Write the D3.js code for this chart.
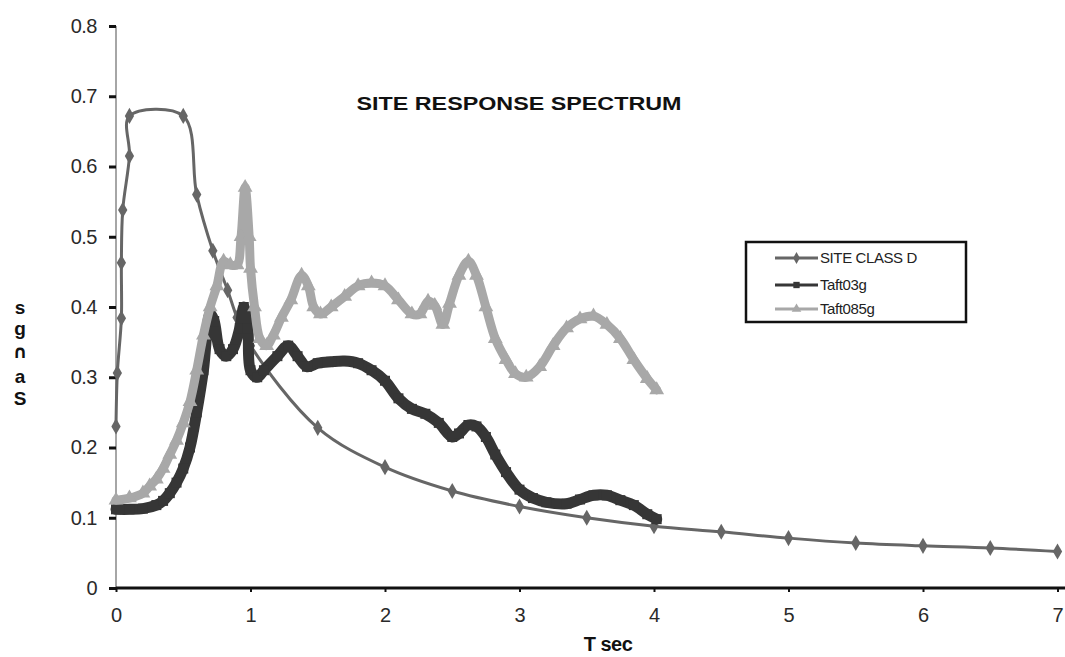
<!DOCTYPE html>
<html><head><meta charset="utf-8">
<script src="https://cdn.jsdelivr.net/npm/d3@7"></script>
<style>body{margin:0;background:#fff}svg{display:block}</style>
</head><body>
<svg id="c" width="1065" height="657"></svg>
<script>
// ---- data ----
const xTicks = [0,1,2,3,4,5,6,7];
const yTicks = [0,0.1,0.2,0.3,0.4,0.5,0.6,0.7,0.8];
const seriesNames = ["SITE CLASS  D","Taft03g","Taft085g"];

const siteT  = [0,0.01,0.04,0.04,0.05,0.1,0.1,0.5,0.6,0.72,0.83,0.9,1.0,1.5,2,2.5,3,3.5,4,4.5,5,5.5,6,6.5,7];
const siteSa = [0.23,0.306,0.384,0.463,0.538,0.615,0.672,0.672,0.56,0.48,0.424,0.385,0.345,0.228,0.172,0.138,0.116,0.1,0.088,0.08,0.071,0.064,0.06,0.057,0.052];

const t03T  = [0,0.1,0.2,0.3,0.35,0.4,0.45,0.5,0.55,0.6,0.65,0.7,0.73,0.77,0.82,0.87,0.92,0.95,0.98,1.0,1.05,1.1,1.2,1.28,1.35,1.42,1.5,1.6,1.7,1.8,1.9,2.0,2.1,2.2,2.3,2.4,2.5,2.55,2.62,2.68,2.75,2.82,2.9,3.0,3.1,3.2,3.35,3.45,3.55,3.65,3.75,3.85,3.95,4.02];
const t03Sa = [0.112,0.112,0.113,0.118,0.124,0.135,0.15,0.17,0.2,0.25,0.31,0.39,0.38,0.34,0.33,0.34,0.37,0.40,0.37,0.31,0.30,0.31,0.33,0.345,0.33,0.315,0.32,0.322,0.323,0.32,0.31,0.295,0.27,0.255,0.248,0.235,0.215,0.22,0.232,0.23,0.215,0.19,0.165,0.14,0.128,0.122,0.12,0.126,0.132,0.132,0.125,0.118,0.105,0.098];

const t085T  = [0,0.1,0.2,0.25,0.3,0.35,0.4,0.45,0.5,0.55,0.6,0.65,0.7,0.75,0.8,0.85,0.9,0.93,0.96,0.99,1.0,1.03,1.07,1.12,1.17,1.23,1.3,1.38,1.43,1.47,1.52,1.6,1.7,1.8,1.9,2.0,2.1,2.2,2.26,2.32,2.37,2.43,2.48,2.55,2.62,2.68,2.75,2.82,2.9,2.97,3.05,3.15,3.25,3.35,3.45,3.55,3.65,3.75,3.85,3.95,4.02];
const t085Sa = [0.125,0.128,0.135,0.145,0.155,0.17,0.19,0.21,0.235,0.265,0.31,0.36,0.40,0.43,0.465,0.46,0.46,0.50,0.57,0.50,0.455,0.40,0.355,0.345,0.36,0.385,0.41,0.445,0.43,0.40,0.39,0.40,0.415,0.43,0.434,0.43,0.41,0.39,0.39,0.408,0.402,0.375,0.405,0.445,0.465,0.445,0.40,0.355,0.325,0.305,0.30,0.315,0.345,0.37,0.383,0.387,0.375,0.355,0.325,0.298,0.282];

// ---- chart ----
const svg = d3.select("#c");
const x = d3.scaleLinear().domain([0,7]).range([116,1057.5]);
const y = d3.scaleLinear().domain([0,0.8]).range([588,26]);
const font = "'Liberation Sans', Arial, sans-serif";

// y axis
const yAxis = svg.append("g").attr("transform","translate(116,0)")
  .call(d3.axisLeft(y).tickValues(yTicks).tickSize(7).tickPadding(12).tickFormat(d=>d===0?"0":d3.format(".1f")(d)));
yAxis.select(".domain").attr("stroke","#888").attr("stroke-width",1.5).attr("d","M0,26V588");
yAxis.selectAll(".tick line").attr("stroke","#111").attr("stroke-width",3);
yAxis.selectAll(".tick text").attr("font-family",font).attr("font-size",20).attr("letter-spacing","-0.5").attr("fill","#2a2a2a");

// series
const pts = (T,V)=>T.map((t,i)=>[t,V[i]]);
const line = d3.line().x(d=>x(d[0])).y(d=>y(d[1])).curve(d3.curveCatmullRom.alpha(0.5));
const series = [
  {name:seriesNames[0], data:pts(siteT,siteSa), color:"#666", width:3, sym:d3.symbolDiamond, size:75},
  {name:seriesNames[1], data:pts(t03T,t03Sa), color:"#363636", width:11, sym:d3.symbolSquare, size:100},
  {name:seriesNames[2], data:pts(t085T,t085Sa), color:"#a8a8a8", width:9, sym:d3.symbolTriangle, size:95}
];
series.forEach(s=>{
  const g = svg.append("g");
  g.append("path").attr("d",line(s.data)).attr("fill","none").attr("stroke",s.color)
    .attr("stroke-width",s.width).attr("stroke-linejoin","round").attr("stroke-linecap","round");
  g.selectAll("path.m").data(s.data).join("path").attr("class","m")
    .attr("d",d3.symbol().type(s.sym).size(s.size))
    .attr("transform",d=>`translate(${x(d[0])},${y(d[1])})`).attr("fill",s.color);
});

// x axis
const xAxis = svg.append("g").attr("transform","translate(0,588)")
  .call(d3.axisBottom(x).tickValues(xTicks).tickSize(4).tickPadding(16).tickFormat(d3.format("d")));
xAxis.select(".domain").attr("stroke","#111").attr("stroke-width",3).attr("d","M116,0H1065");
xAxis.selectAll(".tick line").attr("stroke","#111").attr("stroke-width",2);
xAxis.selectAll(".tick text").attr("font-family",font).attr("font-size",20).attr("fill","#2a2a2a");

// title
svg.append("text").attr("x",519).attr("y",110).attr("text-anchor","middle")
  .attr("font-family",font).attr("font-weight","bold").attr("font-size",18)
  .attr("textLength",325).attr("lengthAdjust","spacingAndGlyphs").attr("fill","#111")
  .text("SITE RESPONSE SPECTRUM");

// x label
svg.append("text").attr("x",608).attr("y",651).attr("text-anchor","middle")
  .attr("font-family",font).attr("font-weight","bold").attr("font-size",20).attr("fill","#111")
  .attr("letter-spacing","-0.5").text("T sec");

// y label (stacked glyphs)
const yLab = [["s",314],["g",335],["\u2229",358],["a",383],["S",405]];
svg.append("g").selectAll("text").data(yLab).join("text")
  .attr("x",20).attr("y",d=>d[1]).attr("text-anchor","middle")
  .attr("font-family",d=>d[0]==="\u2229"?"'DejaVu Sans', sans-serif":font)
  .attr("font-weight","bold").attr("font-size",d=>d[0]==="\u2229"?18:19).attr("fill","#111")
  .text(d=>d[0]);

// legend
const lg = svg.append("g");
lg.append("rect").attr("x",746).attr("y",242).attr("width",220).attr("height",80)
  .attr("fill","#fff").attr("stroke","#111").attr("stroke-width",2.5);
const ly = [258,285,309];
series.forEach((s,i)=>{
  lg.append("line").attr("x1",775).attr("x2",818).attr("y1",ly[i]).attr("y2",ly[i])
    .attr("stroke",s.color).attr("stroke-width",3);
  lg.append("path").attr("d",d3.symbol().type(s.sym).size(40)())
    .attr("transform",`translate(796.5,${ly[i]})`).attr("fill",s.color);
  lg.append("text").attr("x",820).attr("y",ly[i]+5).attr("font-family",font)
    .attr("font-size",15).attr("letter-spacing","-0.4").attr("fill","#222").text(s.name);
});
</script>
</body></html>
